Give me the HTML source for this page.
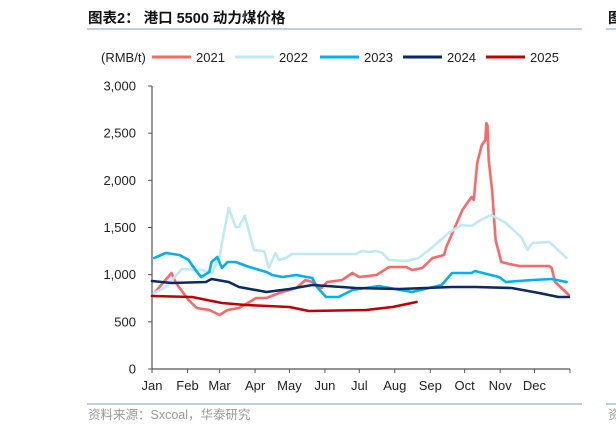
<!DOCTYPE html>
<html><head><meta charset="utf-8">
<style>
body{margin:0;background:#fff;}
#wrap{position:relative;width:616px;height:434px;overflow:hidden;font-family:"Liberation Sans","Noto Sans CJK SC",sans-serif;}
svg text{font-family:"Liberation Sans","Noto Sans CJK SC",sans-serif;}
</style></head>
<body>
<div id="wrap">
<svg id="chart" width="616" height="434">
  <text x="88" y="23" font-size="14.5" font-weight="bold" fill="#111">图表2：  港口 5500 动力煤价格</text>
  <line x1="87" y1="29" x2="582" y2="29" stroke="#a9bfd6" stroke-width="1.5"/>
  <text x="608" y="23" font-size="14.5" font-weight="bold" fill="#111">图</text>
  <line x1="606" y1="29" x2="616" y2="29" stroke="#a9bfd6" stroke-width="1.5"/>
  <text x="101" y="62" font-size="13" fill="#222">(RMB/t)</text>
  <g id="legend"></g>
  <g id="axes"></g>
  <g id="series"></g>
  <line x1="87" y1="404" x2="582" y2="404" stroke="#a9bfd6" stroke-width="1.5"/>
  <line x1="606" y1="404" x2="616" y2="404" stroke="#a9bfd6" stroke-width="1.5"/>
  <text x="88" y="419" font-size="12.5" fill="#999">资料来源：Sxcoal，华泰研究</text>
  <text x="608" y="419" font-size="12.5" fill="#999">资</text>
</svg>
</div>
<script>
const months = ["Jan","Feb","Mar","Apr","May","Jun","Jul","Aug","Sep","Oct","Nov","Dec"];
const monthStartDays = [0,31,59,90,120,151,181,212,243,273,304,334,365];
const yTicks = [0,500,1000,1500,2000,2500,3000];
const yTickLabels = ["0","500","1,000","1,500","2,000","2,500","3,000"];
const seriesNames = ["2021","2022","2023","2024","2025"];
const seriesColors = ["#ff6666","#bfe8f8","#00b0f0","#0b2a63","#c00000"];
const days2021 = [2,17,21,32,39,50,59,66,76,91,100,111,126,134,140,148,153,166,175,181,196,207,222,227,236,245,255,257,271,279,281,284,288,291,292,293,294,297,300,305,312,321,347,349,352,364];
const vals2021 = [806,1018,912,731,647,625,572,625,647,753,753,806,859,943,922,859,922,943,1018,975,996,1081,1081,1049,1071,1177,1208,1293,1685,1823,1791,2184,2374,2427,2608,2576,2215,1897,1367,1134,1113,1092,1092,1071,922,784];
const days2022 = [2,12,26,44,52,59,61,67,73,76,81,89,98,102,105,108,111,117,122,178,183,190,196,201,207,222,233,245,259,270,279,287,296,309,323,328,332,347,362];
const vals2022 = [806,869,1060,1049,1018,1187,1336,1707,1505,1505,1622,1261,1251,1071,1155,1230,1155,1177,1219,1219,1251,1240,1251,1230,1155,1145,1177,1293,1442,1526,1516,1579,1632,1548,1389,1261,1336,1346,1177];
const days2023 = [2,12,24,32,38,43,50,52,57,61,66,73,85,100,105,114,126,140,144,152,163,175,198,227,253,262,279,282,303,309,332,349,362];
const vals2023 = [1177,1230,1208,1155,1049,975,1028,1134,1187,1071,1134,1134,1081,1028,996,975,996,965,869,763,763,837,880,816,890,1018,1018,1039,975,922,943,954,922];
const days2024 = [0,17,47,52,67,76,100,120,140,178,216,262,283,314,338,355,364];
const vals2024 = [933,912,922,954,922,869,816,848,890,859,848,869,869,859,806,763,763];
const days2025 = [0,35,61,82,120,137,187,210,231];
const vals2025 = [774,763,700,678,657,615,625,657,710];
const seriesDays = [days2021,days2022,days2023,days2024,days2025];
const seriesVals = [vals2021,vals2022,vals2023,vals2024,vals2025];

const NS="http://www.w3.org/2000/svg";
const X0=152,X1=570,Y0=369,Y1=86;
function xScale(d){return X0+(X1-X0)*d/365;}
function yScale(v){return Y0-(Y0-Y1)*v/3000;}
function mk(tag,attrs,parent){const e=document.createElementNS(NS,tag);for(const k in attrs)e.setAttribute(k,attrs[k]);parent.appendChild(e);return e;}

const axes=document.getElementById('axes');
let yl=mk('line',{x1:X0,y1:Y1,x2:X0,y2:Y0,stroke:'#555','stroke-width':1.2},axes);


let xl=mk('line',{x1:X0,y1:Y0,x2:X1,y2:Y0,stroke:'#555','stroke-width':1.2},axes);


yTicks.forEach((t,i)=>{
  const y=yScale(t);
  let tk=mk('line',{x1:X0-4,y1:y,x2:X0,y2:y,stroke:'#555','stroke-width':1},axes);
  
  
  let tx=mk('text',{x:136,y:y+4.5,'font-size':13,fill:'#222','text-anchor':'end'},axes);
  tx.textContent=yTickLabels[i];
  
  
});
monthStartDays.forEach((d,i)=>{
  const x=xScale(d);
  let tk=mk('line',{x1:x,y1:Y0,x2:x,y2:Y0+4,stroke:'#555','stroke-width':1},axes);
  
  
  if(i<months.length){
    let tx=mk('text',{x:x,y:390,'font-size':13,fill:'#222','text-anchor':'middle'},axes);
    tx.textContent=months[i];
    
    
  }
});

const sg=document.getElementById('series');
seriesNames.forEach((n,i)=>{
  const pts=seriesDays[i].map((d,j)=>xScale(d).toFixed(1)+','+yScale(seriesVals[i][j]).toFixed(1)).join(' ');
  let pl=mk('polyline',{points:pts,fill:'none',stroke:seriesColors[i],'stroke-width':2.6,'stroke-linejoin':'round','stroke-linecap':'round'},sg);
  
  
});

const lg=document.getElementById('legend');
const legendX=[152,235,320,403,486];
seriesNames.forEach((n,i)=>{
  const x=legendX[i];
  let ln=mk('line',{x1:x,y1:57,x2:x+39,y2:57,stroke:seriesColors[i],'stroke-width':3},lg);
  
  
  let tx=mk('text',{x:x+44,y:62,'font-size':13,fill:'#222'},lg);
  tx.textContent=n;
  
  
});
</script>
</body></html>
